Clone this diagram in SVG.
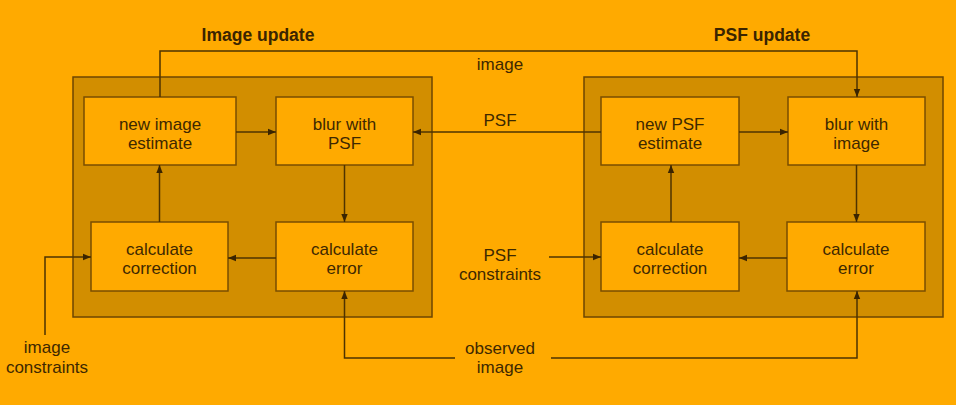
<svg xmlns="http://www.w3.org/2000/svg" width="956" height="405" viewBox="0 0 956 405">
<defs>
<style>
.bg{fill:#FFAA00}
.panel{fill:#D28E00;stroke:#6E4600;stroke-width:1.5}
.box{fill:#FFAA00;stroke:#7A4E00;stroke-width:1.5}
.t{font-family:"Liberation Sans",Arial,sans-serif;font-size:17px;fill:#3E2800;text-anchor:middle}
.title{font-family:"Liberation Sans",Arial,sans-serif;font-size:17.5px;font-weight:bold;fill:#3A2400;text-anchor:middle}
.ln{fill:none;stroke:#4E3300;stroke-width:1.5}
</style>
<marker id="ah" viewBox="0 0 10 10" refX="10" refY="5" markerWidth="8" markerHeight="8" markerUnits="userSpaceOnUse" orient="auto">
<path d="M0,1 L10,5 L0,9 Z" fill="#3A2400"/>
</marker>
</defs>
<rect class="bg" x="0" y="0" width="956" height="405"/>

<g id="image-update-panel">
<rect class="panel" x="73" y="77" width="359" height="240"/>
<text class="title" x="258" y="41">Image update</text>
</g>
<g id="psf-update-panel">
<rect class="panel" x="584" y="77" width="359" height="240"/>
<text class="title" x="762" y="41">PSF update</text>
</g>

<g id="new-image-estimate">
<rect class="box" x="84" y="97" width="152" height="68"/>
<text class="t" x="160" y="130">new image</text>
<text class="t" x="160" y="149">estimate</text>
</g>
<g id="blur-with-psf">
<rect class="box" x="276" y="97" width="137" height="68"/>
<text class="t" x="344.5" y="130">blur with</text>
<text class="t" x="344.5" y="149">PSF</text>
</g>
<g id="calc-correction-left">
<rect class="box" x="91" y="222" width="137" height="69"/>
<text class="t" x="159.5" y="255">calculate</text>
<text class="t" x="159.5" y="274">correction</text>
</g>
<g id="calc-error-left">
<rect class="box" x="276" y="222" width="137" height="69"/>
<text class="t" x="344.5" y="255">calculate</text>
<text class="t" x="344.5" y="274">error</text>
</g>

<g id="new-psf-estimate">
<rect class="box" x="601" y="97" width="138" height="68"/>
<text class="t" x="670" y="130">new PSF</text>
<text class="t" x="670" y="149">estimate</text>
</g>
<g id="blur-with-image">
<rect class="box" x="788" y="97" width="137" height="68"/>
<text class="t" x="856.5" y="130">blur with</text>
<text class="t" x="856.5" y="149">image</text>
</g>
<g id="calc-correction-right">
<rect class="box" x="601" y="222" width="138" height="69"/>
<text class="t" x="670" y="255">calculate</text>
<text class="t" x="670" y="274">correction</text>
</g>
<g id="calc-error-right">
<rect class="box" x="787" y="222" width="138" height="69"/>
<text class="t" x="856" y="255">calculate</text>
<text class="t" x="856" y="274">error</text>
</g>

<g id="connectors">
<path class="ln" d="M160,97 V51 H857 V97" marker-end="url(#ah)"/>
<path class="ln" d="M601,132 H413" marker-end="url(#ah)"/>
<path class="ln" d="M236,132 H276" marker-end="url(#ah)"/>
<path class="ln" d="M739,132 H788" marker-end="url(#ah)"/>
<path class="ln" d="M344.5,165 V222" marker-end="url(#ah)"/>
<path class="ln" d="M856.5,165 V222" marker-end="url(#ah)"/>
<path class="ln" d="M276,258 H228" marker-end="url(#ah)"/>
<path class="ln" d="M787,258 H739" marker-end="url(#ah)"/>
<path class="ln" d="M159.5,222 V165" marker-end="url(#ah)"/>
<path class="ln" d="M671,222 V165" marker-end="url(#ah)"/>
<path class="ln" d="M45,335 V257 H91" marker-end="url(#ah)"/>
<path class="ln" d="M549,257 H601" marker-end="url(#ah)"/>
<path class="ln" d="M455,358 H344.5 V291" marker-end="url(#ah)"/>
<path class="ln" d="M551,358 H857 V291" marker-end="url(#ah)"/>
</g>

<g id="labels">
<text class="t" x="500" y="70">image</text>
<text class="t" x="500" y="126">PSF</text>
<text class="t" x="500" y="261">PSF</text>
<text class="t" x="500" y="280">constraints</text>
<text class="t" x="500" y="354">observed</text>
<text class="t" x="500" y="373">image</text>
<text class="t" x="47" y="353">image</text>
<text class="t" x="47" y="373">constraints</text>
</g>
</svg>
